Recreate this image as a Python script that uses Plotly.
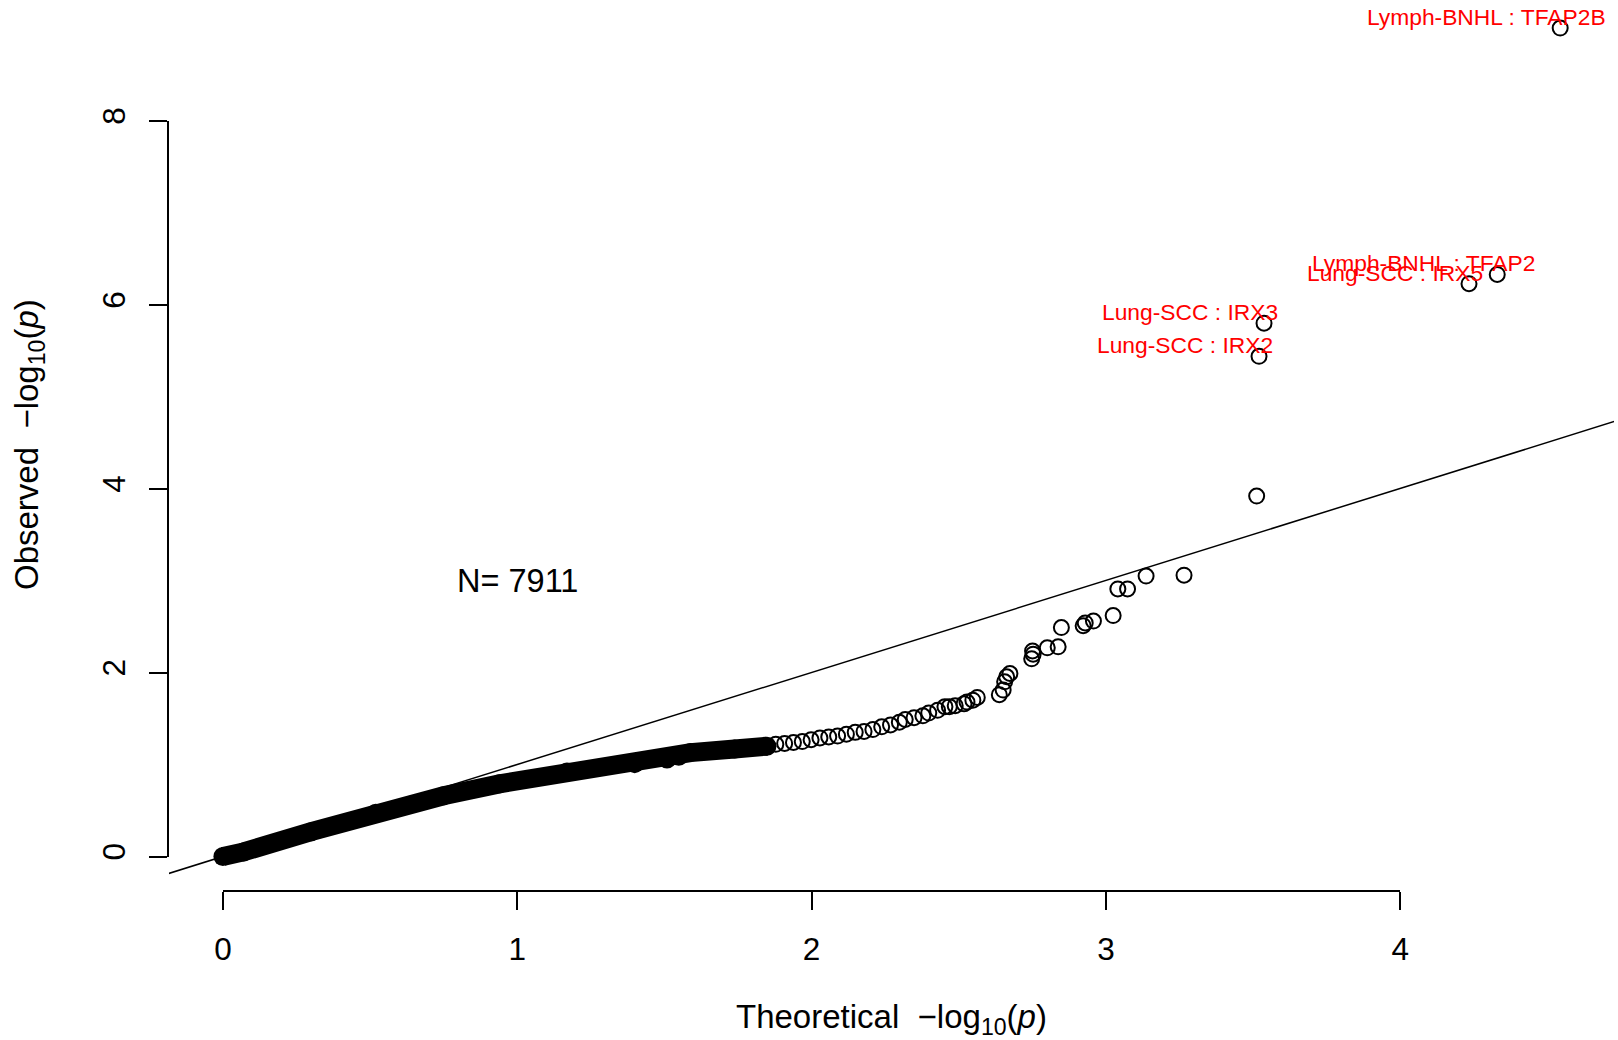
import plotly.graph_objects as go

# ---- data ----
# dense, fully overlapping part of the QQ cloud (theoretical, observed)
band_theoretical = [0.00, 0.07, 0.30, 0.52, 0.75, 0.94, 1.17, 1.40, 1.51, 1.55, 1.59, 1.74, 1.85]
band_observed    = [0.00, 0.05, 0.27, 0.47, 0.66, 0.79, 0.92, 1.01, 1.06, 1.09, 1.13, 1.17, 1.20]

# individually visible points
pts_theoretical = [1.85, 1.88, 1.91, 1.94, 1.97, 2.00, 2.03, 2.06, 2.09, 2.12, 2.15, 2.18, 2.21,
                   2.24, 2.27, 2.30, 2.32, 2.35, 2.38, 2.40, 2.43, 2.455, 2.47, 2.49, 2.52, 2.53,
                   2.55, 2.565, 2.640, 2.653, 2.658, 2.665, 2.676, 2.750, 2.755, 2.753, 2.803,
                   2.840, 2.851, 2.925, 2.932, 2.960, 3.027, 3.043, 3.076, 3.139, 3.268, 3.515,
                   3.523, 3.540, 4.237, 4.333, 4.547]
pts_observed    = [1.20, 1.22, 1.23, 1.24, 1.25, 1.27, 1.29, 1.30, 1.31, 1.33, 1.35, 1.36, 1.38,
                   1.41, 1.43, 1.46, 1.49, 1.51, 1.53, 1.56, 1.59, 1.63, 1.63, 1.64, 1.66, 1.68,
                   1.70, 1.73, 1.76, 1.81, 1.90, 1.955, 1.99, 2.15, 2.20, 2.235, 2.27,
                   2.28, 2.49, 2.51, 2.54, 2.56, 2.62, 2.91, 2.91, 3.05, 3.06, 3.92,
                   5.44, 5.80, 6.23, 6.33, 9.01]

# labelled top hits
label_text        = ["Lung-SCC : IRX2", "Lung-SCC : IRX3", "Lung-SCC : IRX5",
                     "Lymph-BNHL : TFAP2", "Lymph-BNHL : TFAP2B"]
label_theoretical = [3.523, 3.540, 4.237, 4.333, 4.547]
label_observed    = [5.44, 5.80, 6.23, 6.33, 9.01]

diag = [-1, 10]                     # abline(0, 1)
x_ticks = [0, 1, 2, 3, 4]
y_ticks = [0, 2, 4, 6, 8]
n_tests = 7911

FONT = "Liberation Sans, Arial, Helvetica, sans-serif"

fig = go.Figure()

fig.add_trace(go.Scatter(x=diag, y=diag, mode="lines",
                         line=dict(color="black", width=1.5),
                         hoverinfo="skip", showlegend=False))

fig.add_trace(go.Scatter(x=band_theoretical, y=band_observed, mode="lines+markers",
                         line=dict(color="black", width=19),
                         marker=dict(symbol="circle", size=19, color="black", line=dict(width=0)),
                         showlegend=False))

fig.add_trace(go.Scatter(x=pts_theoretical, y=pts_observed, mode="markers",
                         marker=dict(symbol="circle-open", size=15, color="black",
                                     line=dict(color="black", width=2)),
                         cliponaxis=False, showlegend=False))

# carrier traces so the detached R-style axes get drawn
fig.add_trace(go.Scatter(x=x_ticks, y=[None] * len(x_ticks), xaxis="x2", yaxis="y2",
                         mode="markers", hoverinfo="skip", showlegend=False))
fig.add_trace(go.Scatter(x=[None] * len(y_ticks), y=y_ticks, xaxis="x3", yaxis="y3",
                         mode="markers", hoverinfo="skip", showlegend=False))

for t, xv, yv in zip(label_text, label_theoretical, label_observed):
    fig.add_annotation(x=xv, y=yv, xref="x", yref="y", text=t, showarrow=False,
                       xshift=-74, yshift=11, xanchor="center", yanchor="middle",
                       font=dict(family=FONT, size=22.8, color="#FF0000"))

fig.add_annotation(x=1, y=3, xref="x", yref="y", text=f"N= {n_tests}", showarrow=False,
                   xanchor="center", yanchor="middle",
                   font=dict(family=FONT, size=32.5, color="black"))

fig.add_annotation(x=0.5001, y=-0.1444, xref="paper", yref="paper",
                   text="Theoretical  \u2212log<sub>10</sub>(<i>p</i>)", showarrow=False,
                   xanchor="center", yanchor="middle",
                   font=dict(family=FONT, size=33, color="black"))
fig.add_annotation(x=-0.0969, y=0.5011, xref="paper", yref="paper",
                   text="Observed  \u2212log<sub>10</sub>(<i>p</i>)", showarrow=False,
                   textangle=-90, xanchor="center", yanchor="middle",
                   font=dict(family=FONT, size=33, color="black"))

hidden = dict(showgrid=False, zeroline=False, showline=False, showticklabels=False,
              ticks="", automargin=False)

fig.update_layout(
    width=1618, height=1040,
    margin=dict(l=169, r=4, t=0, b=150, autoexpand=False),
    paper_bgcolor="white", plot_bgcolor="rgba(0,0,0,0)",
    font=dict(family=FONT, size=31, color="black"),
    xaxis=dict(range=[-0.1833, 4.730], domain=[0, 1], **hidden),
    yaxis=dict(range=[-0.3643, 9.315], domain=[0, 1], **hidden),
    # R-style detached axes
    xaxis2=dict(domain=[0.0373, 0.8521], range=[0, 4], anchor="y2", automargin=False,
                tickmode="array", tickvals=x_ticks, ticktext=[str(v) for v in x_ticks],
                ticks="outside", ticklen=18, tickwidth=1.5, tickcolor="black",
                showline=True, linecolor="black", linewidth=1.5,
                showgrid=False, zeroline=False, ticklabelstandoff=12,
                tickfont=dict(family=FONT, size=31.5, color="black")),
    yaxis2=dict(domain=[0, 1], range=[0, 1], anchor="x2", visible=False, automargin=False),
    yaxis3=dict(domain=[0.0376, 0.8644], range=[0, 8], anchor="x3", automargin=False,
                tickmode="array", tickvals=y_ticks, ticktext=[str(v) for v in y_ticks],
                ticks="outside", ticklen=18, tickwidth=1.5, tickcolor="black",
                showline=True, linecolor="black", linewidth=1.5, tickangle=-90,
                showgrid=False, zeroline=False, ticklabelstandoff=12,
                tickfont=dict(family=FONT, size=31.5, color="black")),
    xaxis3=dict(domain=[0, 1], range=[0, 1], anchor="y3", visible=False, automargin=False),
)

fig.write_html("out.html")
